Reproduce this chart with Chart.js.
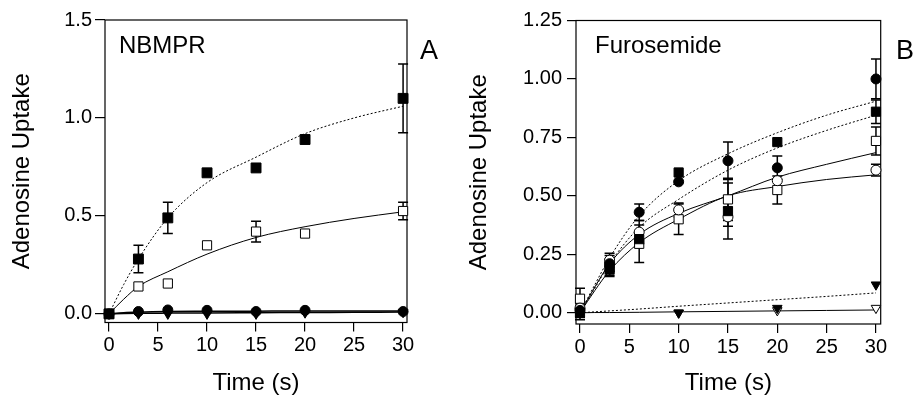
<!DOCTYPE html>
<html>
<head>
<meta charset="utf-8">
<script src="https://cdn.jsdelivr.net/npm/chart.js@4.4.1/dist/chart.umd.min.js"></script>
<style>
  html, body { margin: 0; padding: 0; background: #fff; }
  #wrap { position: relative; width: 917px; height: 395px; }
  #chartA { position: absolute; left: 0; top: 0; }
  #chartB { position: absolute; left: 460px; top: 0; }
</style>
</head>
<body>
<div id="wrap">
  <canvas id="chartA" width="460" height="395"></canvas>
  <canvas id="chartB" width="457" height="395"></canvas>
</div>
<script>
// ---- data ----
var xTicks = [0, 5, 10, 15, 20, 25, 30];
var yTicksA = [0, 0.5, 1.0, 1.5];
var yLabelsA = ['0.0', '0.5', '1.0', '1.5'];
var yTicksB = [0, 0.25, 0.5, 0.75, 1.0, 1.25];
var yLabelsB = ['0.00', '0.25', '0.50', '0.75', '1.00', '1.25'];

// panel A (NBMPR)
var timesA = [0, 3, 6, 10, 15, 20, 30];
var aFilledSq = [0.0, 0.28, 0.49, 0.72, 0.745, 0.89, 1.10];
var aFilledSqErr = [0, 0.07, 0.08, 0, 0, 0, 0.175];
var aOpenSq = [0.0, 0.14, 0.155, 0.35, 0.42, 0.41, 0.525];
var aOpenSqErr = [0, 0, 0, 0, 0.053, 0, 0.045];
var aFilledCircle = [0.0, 0.012, 0.02, 0.018, 0.012, 0.018, 0.012];
var aFilledTri = [0.0, 0.0, 0.0, 0.0, 0.0, 0.006, 0.008];

var fitTimes = [0, 1.5, 3, 6, 10, 15, 20, 25, 30];
var aFitFilledSq = [0, 0.15, 0.28, 0.49, 0.67, 0.80, 0.92, 1.00, 1.06];
var aFitOpenSq = [0, 0.075, 0.14, 0.215, 0.305, 0.39, 0.445, 0.487, 0.521];
var aFitCircle = [0, 0.006, 0.009, 0.012, 0.013, 0.014, 0.015, 0.015, 0.015];
var aFitTri = [0, 0.002, 0.003, 0.004, 0.005, 0.006, 0.007, 0.008, 0.009];

// panel B (Furosemide)
var timesB = [0, 3, 6, 10, 15, 20, 30];
var bFilledCircle = [0.01, 0.21, 0.43, 0.56, 0.65, 0.62, 1.0];
var bFilledCircleErr = [0.03, 0.035, 0.035, 0, 0.08, 0.05, 0.085];
var bFilledSq = [0.0, 0.185, 0.315, 0.60, 0.435, 0.73, 0.86];
var bFilledSqErr = [0.03, 0.03, 0, 0, 0.12, 0, 0.05];
var bOpenCircle = [0.02, 0.225, 0.345, 0.44, 0.41, 0.565, 0.61];
var bOpenCircleErr = [0, 0.03, 0.05, 0.03, 0.04, 0, 0.025];
var bOpenSq = [0.06, 0.195, 0.295, 0.40, 0.485, 0.525, 0.735];
var bOpenSqErr = [0.045, 0.035, 0.08, 0.065, 0.09, 0.06, 0.06];
var timesTri = [0, 10, 20, 30];
var bFilledTri = [0.0, 0.0, 0.02, 0.12];
var bOpenTri = [0.005, 0.0, 0.01, 0.02];

var bFitUpperDot = [0, 0.12, 0.235, 0.415, 0.565, 0.68, 0.77, 0.845, 0.905];
var bFitLowerDot = [0, 0.105, 0.21, 0.365, 0.485, 0.61, 0.705, 0.78, 0.845];
var bFitSolid1 = [0, 0.11, 0.21, 0.335, 0.425, 0.50, 0.58, 0.635, 0.685];
var bFitSolid2 = [0, 0.095, 0.18, 0.30, 0.40, 0.50, 0.54, 0.57, 0.59];
var bFitTriDot = [0, 0.004, 0.008, 0.016, 0.028, 0.042, 0.056, 0.07, 0.085];
var bFitTriSolid = [0, 0.001, 0.001, 0.002, 0.004, 0.006, 0.008, 0.01, 0.012];

// ---- helpers ----
var FONT = "'Liberation Sans', Arial, Helvetica, sans-serif";

function pts(xs, ys) {
  return xs.map(function(x, i) { return { x: x, y: ys[i] }; });
}

function markers(xs, ys, style, filled, radius, rot) {
  return {
    data: pts(xs, ys),
    showLine: false,
    pointStyle: style,
    pointRadius: radius,
    pointRotation: rot || 0,
    pointBackgroundColor: filled ? '#000' : '#fff',
    pointBorderColor: '#000',
    pointBorderWidth: 1,
    clip: false
  };
}

function fitLine(xs, ys, dotted, width) {
  return {
    data: pts(xs, ys),
    showLine: true,
    pointRadius: 0,
    borderColor: '#000',
    borderWidth: width || 1,
    borderDash: dotted ? [2, 2] : [],
    cubicInterpolationMode: 'monotone',
    fill: false
  };
}

// frame around the plot + error bars (drawn under the markers)
var framePlugin = {
  id: 'frameBox',
  beforeDatasetsDraw: function(chart) {
    var a = chart.chartArea, ctx = chart.ctx;
    ctx.save();
    ctx.strokeStyle = '#000';
    ctx.lineWidth = 1.2;
    ctx.strokeRect(a.left, a.top, a.right - a.left, a.bottom - a.top);
    ctx.restore();
  }
};

var errorBarPlugin = {
  id: 'errorBars',
  beforeDatasetsDraw: function(chart, args, opts) {
    var ctx = chart.ctx, xs = chart.scales.x, ys = chart.scales.y;
    var cap = 5;
    ctx.save();
    ctx.strokeStyle = '#000';
    ctx.lineWidth = 1.5;
    (opts.sets || []).forEach(function(set) {
      set.times.forEach(function(t, i) {
        var e = set.errs[i];
        if (!e) return;
        var px = xs.getPixelForValue(t);
        var top = ys.getPixelForValue(set.values[i] + e);
        var bot = ys.getPixelForValue(set.values[i] - e);
        ctx.beginPath();
        ctx.moveTo(px, top); ctx.lineTo(px, bot);
        ctx.moveTo(px - cap, top); ctx.lineTo(px + cap, top);
        ctx.moveTo(px - cap, bot); ctx.lineTo(px + cap, bot);
        ctx.stroke();
      });
    });
    ctx.restore();
  }
};

var panelTextPlugin = {
  id: 'panelText',
  afterDraw: function(chart, args, opts) {
    var ctx = chart.ctx;
    ctx.save();
    ctx.fillStyle = '#000';
    ctx.textBaseline = 'alphabetic';
    (opts.items || []).forEach(function(it) {
      ctx.font = it.size + 'px ' + FONT;
      ctx.fillText(it.text, it.x, it.y);
    });
    ctx.restore();
  }
};

function buildOptions(cfg) {
  return {
    responsive: false,
    animation: false,
    events: [],
    layout: { padding: { top: cfg.top, right: cfg.right, left: 0, bottom: 0 } },
    plugins: {
      legend: { display: false },
      tooltip: { enabled: false },
      errorBars: { sets: cfg.errSets },
      panelText: { items: cfg.texts }
    },
    scales: {
      x: {
        type: 'linear',
        min: cfg.xMin, max: cfg.xMax,
        afterBuildTicks: function(s) { s.ticks = xTicks.map(function(v) { return { value: v }; }); },
        afterFit: function(s) { s.height = cfg.xHeight; },
        grid: { display: true, drawOnChartArea: false, drawTicks: true, tickLength: 9, color: '#000', lineWidth: 1.2 },
        border: { display: false },
        ticks: { color: '#000', padding: 2, maxRotation: 0, autoSkip: false, font: { family: FONT, size: 20 } },
        title: { display: true, text: 'Time (s)', color: '#000', padding: { top: 0, bottom: 0 }, font: { family: FONT, size: 24, lineHeight: 1 } }
      },
      y: {
        type: 'linear',
        min: cfg.yMin, max: cfg.yMax,
        afterBuildTicks: function(s) { s.ticks = cfg.yTicks.map(function(v) { return { value: v }; }); },
        afterFit: function(s) { s.width = cfg.yWidth; },
        grid: { display: true, drawOnChartArea: false, drawTicks: true, tickLength: cfg.yTickLen, color: '#000', lineWidth: 1.2 },
        border: { display: false },
        ticks: {
          color: '#000', padding: cfg.yPad, autoSkip: false, font: { family: FONT, size: 20 },
          callback: function(v, i) { return cfg.yLabels[i]; }
        },
        title: { display: true, text: 'Adenosine Uptake', color: '#000', padding: { top: cfg.titlePad, bottom: 0 }, font: { family: FONT, size: 24, lineHeight: 1 } }
      }
    }
  };
}

// ---- panel A ----
new Chart(document.getElementById('chartA'), {
  type: 'scatter',
  data: {
    datasets: [
      markers(timesA, aFilledSq, 'rect', true, 7),
      markers(timesA, aOpenSq, 'rect', false, 6.5),
      markers(timesA, aFilledCircle, 'circle', true, 5),
      markers(timesA, aFilledTri, 'triangle', true, 5.5, 180),
      fitLine(fitTimes, aFitFilledSq, true, 1),
      fitLine(fitTimes, aFitOpenSq, false, 1),
      fitLine(fitTimes, aFitCircle, false, 1.5),
      fitLine(fitTimes, aFitTri, false, 1.5)
    ]
  },
  options: buildOptions({
    top: 20, right: 53, xHeight: 72.5, yWidth: 105,
    xMin: -0.41, xMax: 30.4, yMin: -0.044, yMax: 1.5,
    yTicks: yTicksA, yLabels: yLabelsA, yTickLen: 10, yPad: 3, titlePad: 10,
    errSets: [
      { times: timesA, values: aFilledSq, errs: aFilledSqErr },
      { times: timesA, values: aOpenSq, errs: aOpenSqErr }
    ],
    texts: [
      { text: 'NBMPR', x: 119, y: 53, size: 24 },
      { text: 'A', x: 420, y: 59, size: 27 }
    ]
  }),
  plugins: [framePlugin, errorBarPlugin, panelTextPlugin]
});

// ---- panel B ----
new Chart(document.getElementById('chartB'), {
  type: 'scatter',
  data: {
    datasets: [
      markers(timesB, bFilledCircle, 'circle', true, 5),
      markers(timesB, bFilledSq, 'rect', true, 6.5),
      markers(timesB, bOpenCircle, 'circle', false, 5),
      markers(timesB, bOpenSq, 'rect', false, 6.5),
      markers(timesTri, bFilledTri, 'triangle', true, 5.5, 180),
      markers(timesTri, bOpenTri, 'triangle', false, 5.5, 180),
      fitLine(fitTimes, bFitUpperDot, true, 1),
      fitLine(fitTimes, bFitLowerDot, true, 1),
      fitLine(fitTimes, bFitSolid1, false, 1),
      fitLine(fitTimes, bFitSolid2, false, 1),
      fitLine(fitTimes, bFitTriDot, true, 1),
      fitLine(fitTimes, bFitTriSolid, false, 1)
    ]
  },
  options: buildOptions({
    top: 20.5, right: 36.3, xHeight: 71, yWidth: 116,
    xMin: -0.405, xMax: 30.48, yMin: -0.048, yMax: 1.25,
    yTicks: yTicksB, yLabels: yLabelsB, yTickLen: 9, yPad: 5, titlePad: 7,
    errSets: [
      { times: timesB, values: bFilledCircle, errs: bFilledCircleErr },
      { times: timesB, values: bFilledSq, errs: bFilledSqErr },
      { times: timesB, values: bOpenCircle, errs: bOpenCircleErr },
      { times: timesB, values: bOpenSq, errs: bOpenSqErr }
    ],
    texts: [
      { text: 'Furosemide', x: 135, y: 53, size: 24 },
      { text: 'B', x: 436, y: 59, size: 27 }
    ]
  }),
  plugins: [framePlugin, errorBarPlugin, panelTextPlugin]
});
</script>
</body>
</html>
